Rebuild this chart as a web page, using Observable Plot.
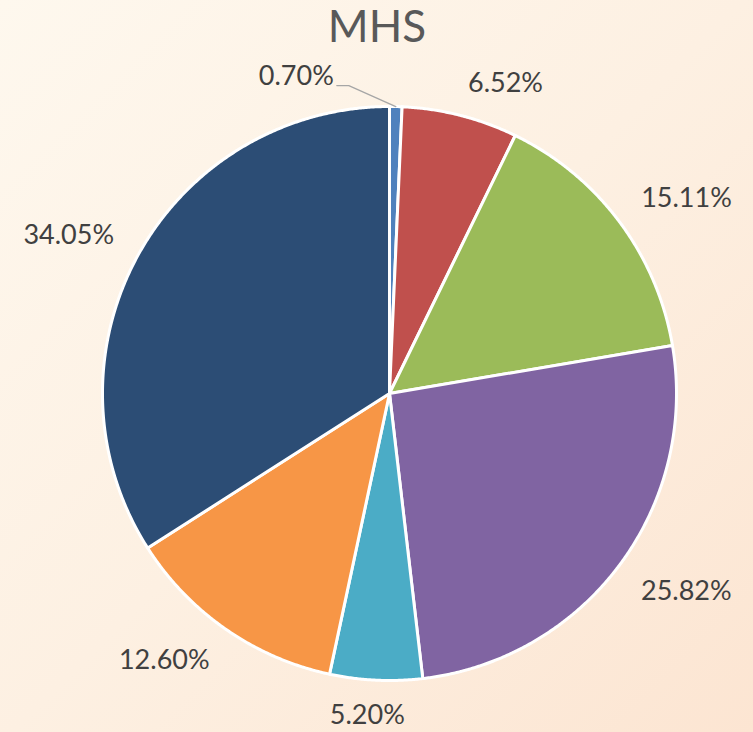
<!DOCTYPE html>
<html>
<head>
<meta charset="utf-8">
<script src="https://cdn.jsdelivr.net/npm/d3@7"></script>
<script src="https://cdn.jsdelivr.net/npm/@observablehq/plot@0.6"></script>
<style>
  html, body { margin: 0; padding: 0; background: #fdf1e3; }
  #chart svg { display: block; }
</style>
</head>
<body>
<div id="chart"></div>
<script>
// ---- data ----
const title = "MHS";
const categories = ["A", "B", "C", "D", "E", "F", "G"];
const shares = [0.70, 6.52, 15.11, 25.82, 5.20, 12.60, 34.05];
const shareLabels = ["0.70%", "6.52%", "15.11%", "25.82%", "5.20%", "12.60%", "34.05%"];
const sliceColors = ["#4F81BD", "#C0504D", "#9BBB59", "#8064A2", "#4BACC6", "#F79646", "#2C4D75"];

// ---- layout ----
const W = 753, H = 732;
const cx = 389, cy = 393, R = 287;
const labelDist = 311, charW = 16, boxH = 20;

const pie = d3.pie().sort(null).value(d => d)(shares);

const slices = pie.map((p, i) => {
  const pts = [{x: cx, y: cy}];
  const n = Math.max(2, Math.ceil((p.endAngle - p.startAngle) / 0.005));
  for (let k = 0; k <= n; k++) {
    const t = p.startAngle + (p.endAngle - p.startAngle) * k / n;
    pts.push({x: cx + R * Math.sin(t), y: cy - R * Math.cos(t)});
  }
  return {pts, color: sliceColors[i], name: categories[i]};
});

const labels = [];
const leaders = [];
pie.forEach((p, i) => {
  const mid = (p.startAngle + p.endAngle) / 2;
  const ux = Math.sin(mid), uy = -Math.cos(mid);
  const w = shareLabels[i].length * charW;
  if (shares[i] < 2) {
    // small slice: label pulled to the left with a leader line
    const a = {x: cx + R * ux, y: cy + R * uy};
    const e = {x: a.x - 47, y: a.y - 21};
    const s = {x: e.x - 12, y: e.y};
    leaders.push([a, e, s]);
    labels.push({x: s.x - 3, y: s.y - 10, text: shareLabels[i], anchor: "end"});
  } else {
    // the label box corner nearest the pie sits on the ray through the slice middle
    const px = cx + labelDist * ux, py = cy + labelDist * uy;
    const fx = Math.sign(ux) * Math.min(1, 4 * Math.abs(ux));
    const fy = Math.sign(uy) * Math.min(1, 4 * Math.abs(uy));
    labels.push({x: px + fx * w / 2, y: py + fy * boxH / 2, text: shareLabels[i], anchor: "middle"});
  }
});

const marks = [
  ...slices.map(s => Plot.line(s.pts, {
    x: "x", y: "y", curve: "linear-closed",
    fill: s.color, stroke: "white", strokeWidth: 3, strokeLinejoin: "round"
  })),
  ...leaders.map(l => Plot.line(l, {x: "x", y: "y", stroke: "#a6a6a6", strokeWidth: 1.3})),
  Plot.text(labels.filter(d => d.anchor === "middle"), {
    x: "x", y: "y", text: "text", textAnchor: "middle", lineAnchor: "middle", dy: 1,
    fontSize: 27, fill: "#404040"
  }),
  Plot.text(labels.filter(d => d.anchor === "end"), {
    x: "x", y: "y", text: "text", textAnchor: "end", lineAnchor: "middle", dy: 1,
    fontSize: 27, fill: "#404040"
  }),
  Plot.text([title], {
    text: d => d, frameAnchor: "top", lineAnchor: "top", dy: 10,
    fontSize: 44, fill: "#595959"
  })
];

const chart = Plot.plot({
  width: W, height: H,
  margin: 0,
  x: {domain: [0, W], range: [0, W], axis: null},
  y: {domain: [0, H], range: [0, H], axis: null},
  style: {
    fontFamily: "Lato, 'Open Sans', sans-serif",
    background: "linear-gradient(135deg, #fef8ee 0%, #fdf0e2 50%, #fce5d2 100%)",
    overflow: "visible"
  },
  marks
});
document.getElementById("chart").appendChild(chart);
</script>
</body>
</html>
